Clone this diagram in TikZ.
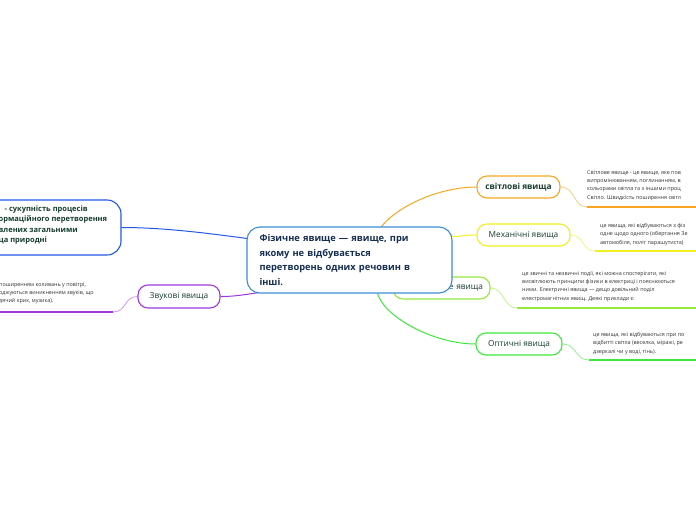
\documentclass[tikz,border=0pt]{standalone}
\usepackage{fontspec}
\setmainfont{Open Sans}
\usetikzlibrary{backgrounds,calc}
\definecolor{cOrange}{RGB}{246,166,35}
\definecolor{cOrangeL}{RGB}{250,205,130}
\definecolor{cYellow}{RGB}{240,240,30}
\definecolor{cYellowL}{RGB}{245,245,140}
\definecolor{cLime}{RGB}{150,232,60}
\definecolor{cLimeL}{RGB}{195,245,140}
\definecolor{cGreen}{RGB}{60,232,60}
\definecolor{cGreenL}{RGB}{150,240,150}
\definecolor{cPurple}{RGB}{160,55,225}
\definecolor{cPurpleL}{RGB}{212,150,240}
\definecolor{cBlue}{RGB}{35,88,230}
\definecolor{cMain}{RGB}{60,140,215}
\definecolor{tGreen}{RGB}{22,60,45}
\definecolor{tMain}{RGB}{20,45,80}
\definecolor{tDesc}{RGB}{50,50,50}
\begin{document}
\begin{tikzpicture}[x=1pt,y=-1pt,
  topic/.style={draw, fill=white, line width=1.1pt, rounded corners=10pt, text=tGreen,
    font=\fontsize{8.3}{10}\selectfont, inner sep=0pt, minimum height=22pt},
  desc/.style={anchor=north west, align=left, text=tDesc,
    font=\fontsize{5.4}{8.4}\selectfont, inner sep=0pt},
  twig/.style={line width=0.8pt},
  uline/.style={line width=2pt},
  branch/.style={line width=1pt}]
\useasboundingbox (0,0) rectangle (696,520);

% left (cut) node
\node[draw=cBlue, fill=white, line width=1.1pt, rounded corners=14pt,
  minimum width=181pt, minimum height=55pt, inner sep=0pt] (phys) at (30.5,227.5) {};
\node[anchor=north west, align=left, inner sep=0pt, text=tGreen,
  font=\bfseries\fontsize{7.5}{10.5}\selectfont] (physt) at (-1.5,205.5)
  {\hspace*{6pt}- сукупність процесів\\ормаційного перетворення\\влених загальними\\ца природні};

% topics
\node[topic, draw=cOrange, minimum width=83pt, font=\bfseries\fontsize{8.3}{10}\selectfont] (light) at (518.5,187) {світлові явища};
\node[topic, draw=cYellow, minimum width=93pt] (mech) at (523.5,235) {Механічні явища};
\node[topic, draw=cLime, minimum width=97pt, text width=83pt, inner xsep=7pt, align=right] (elec) at (441.5,288) {не явища};
\node[topic, draw=cGreen, minimum width=86pt] (opt) at (519,344) {Оптичні явища};
\node[topic, draw=cPurple, minimum width=82pt, minimum height=23pt] (sound) at (179,296.5) {Звукові явища};

% main
\node[draw=cMain, fill=white, line width=1.1pt, rounded corners=13pt,
  minimum width=205pt, minimum height=66pt, text width=180pt, inner xsep=12.5pt, inner ysep=0pt,
  align=left, text=tMain, font=\bfseries\fontsize{9.3}{14.7}\selectfont] (main) at (349.5,260)
  {Фізичне явище — явище, при\\якому не відбувається\\перетворень одних речовин в\\інші.};

% descriptions
\node[desc] (lightd) at (587,170) {Світлове явище - це явище, яке пов\\випромінюванням, поглинанням, в\\кольорами світла та з іншими проц\\Світло. Швидкість поширення світл};
\node[desc] (mechd) at (600,223) {це явища, які відбуваються з фіз\\одне щодо одного (обертання Зе\\автомобіля, політ парашутиста)};
\node[desc] (elecd) at (522,271) {це звичні та незвичні події, які можна спостерігати, які\\висвітлюють принципи фізики в електриці і пояснюються\\ними. Електричні явища — дещо довільний поділ\\електромагнітних явищ. Деякі приклади є:};
\node[desc] (optd) at (593,332) {це явища, які відбуваються при по\\відбитті світла (веселка, міражі, ре\\дзеркалі чи у воді, тінь).};
\node[desc] (soundd) at (-1,282) {поширенням коливань у повітрі,\\оджуються виникненням звуків, що\\дячий крик, музика).};

% underline endpoints
\coordinate (lightu) at (587,207); \coordinate (lighte) at (700,207);
\coordinate (mechu) at (595,251); \coordinate (meche) at (700,251);
\coordinate (elecu) at (517,308); \coordinate (elece) at (700,308);
\coordinate (optu) at (589,360); \coordinate (opte) at (700,360);
\coordinate (soundu) at (113,312); \coordinate (sounde) at (-5,312);

\begin{pgfonlayer}{background}
\fill[white] (0,0) rectangle (696,520);
% branches
\draw[branch, cBlue] (phys.east) .. controls +(40,0) and +(-45,-6) .. ($(main.north west)+(0.5,12)$);
\draw[branch, cOrange] ($(main.north west)+(135,0)$) .. controls +(18,-22) and +(-35,0) .. (light.west);
\draw[branch, cYellow] ($(main.north east)+(-1,10)$) .. controls +(10,0) and +(-10,0) .. (mech.west);
\draw[branch, cGreen] ($(main.south west)+(131,0)$) .. controls +(8,25) and +(-40,0) .. (opt.west);
\draw[branch, cPurple] ($(main.south west)+(13,-1)$) .. controls +(-15,2) and +(15,0) .. (sound.east);
% twigs
\draw[twig, cOrangeL] (light.east) .. controls +(15,0) and +(-14,0) .. (lightu);
\draw[uline, cOrange] (lightu) -- (lighte);
\draw[twig, cYellowL] (mech.east) .. controls +(14,0) and +(-14,0) .. (mechu);
\draw[uline, cYellow] (mechu) -- (meche);
\draw[twig, cLimeL] (elec.east) .. controls +(14,0) and +(-14,0) .. (elecu);
\draw[uline, cLime] (elecu) -- (elece);
\draw[twig, cGreenL] (opt.east) .. controls +(14,0) and +(-14,0) .. (optu);
\draw[uline, cGreen] (optu) -- (opte);
\draw[twig, cPurpleL] (sound.west) .. controls +(-14,0) and +(14,0) .. (soundu);
\draw[uline, cPurple] (soundu) -- (sounde);
\end{pgfonlayer}
\end{tikzpicture}
\end{document}
